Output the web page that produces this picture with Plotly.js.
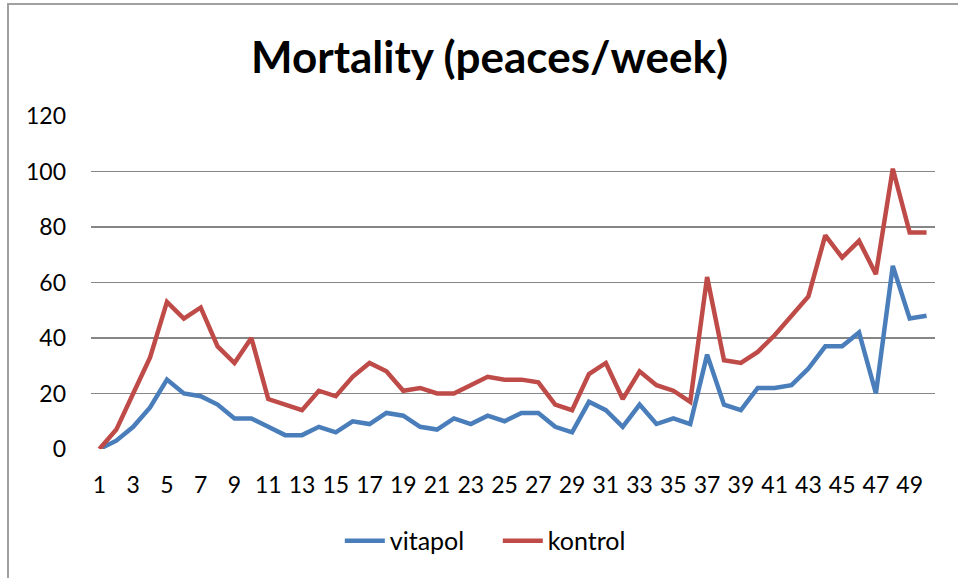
<!DOCTYPE html>
<html>
<head>
<meta charset="utf-8">
<script src="https://cdn.plot.ly/plotly-3.0.1.min.js"></script>
<style>
  html, body { margin: 0; padding: 0; background: #fff; }
  #wrap { position: relative; width: 958px; height: 578px; overflow: hidden; }
  #chart { position: absolute; left: 0; top: 0; width: 958px; height: 578px; }
  #frame { position: absolute; left: 7px; top: 3px; width: 1000px; height: 1000px;
           border-left: 2px solid #a0a0a0; border-top: 2px solid #a0a0a0; pointer-events: none; }
</style>
</head>
<body>
<div id="wrap">
  <div id="chart"></div>
  <div id="frame"></div>
</div>
<script>
const weeks = Array.from({length: 50}, (_, i) => i + 1);
const vitapol = [0, 3, 8, 15, 25, 20, 19, 16, 11, 11,
                 8, 5, 5, 8, 6, 10, 9, 13, 12, 8,
                 7, 11, 9, 12, 10, 13, 13, 8, 6, 17,
                 14, 8, 16, 9, 11, 9, 34, 16, 14, 22,
                 22, 23, 29, 37, 37, 42, 20, 66, 47, 48];
const kontrol = [0, 7, 20, 33, 53, 47, 51, 37, 31, 40,
                 18, 16, 14, 21, 19, 26, 31, 28, 21, 22,
                 20, 20, 23, 26, 25, 25, 24, 16, 14, 27,
                 31, 18, 28, 23, 21, 17, 62, 32, 31, 35,
                 41, 48, 55, 77, 69, 75, 63, 101, 78, 78];
const seriesNames = ["vitapol", "kontrol"];
const titleText = "Mortality (peaces/week)";

const font = "Lato, 'Liberation Sans', sans-serif";

const traces = [
  { x: weeks, y: vitapol, name: seriesNames[0], type: "scatter", mode: "lines",
    line: { color: "#4a7ebb", width: 4.5 } },
  { x: weeks, y: kontrol, name: seriesNames[1], type: "scatter", mode: "lines",
    line: { color: "#be4b48", width: 4.5 } }
];

const layout = {
  width: 958, height: 578,
  margin: { l: 91, r: 23, t: 116, b: 129 },
  paper_bgcolor: "rgba(0,0,0,0)",
  plot_bgcolor: "rgba(0,0,0,0)",
  font: { family: font, size: 23, color: "#000" },
  title: { text: "<b>" + titleText + "</b>", font: { family: font, size: 44, color: "#000" },
           x: 0.511, xref: "container", xanchor: "center", y: 0.9, yref: "container", yanchor: "middle" },
  xaxis: { range: [0.5, 50.5], tickmode: "linear", tick0: 1, dtick: 2,
           showgrid: false, zeroline: false, showline: false, ticks: "",
           ticklabelstandoff: 20, tickfont: { size: 23 } },
  yaxis: { range: [0, 120], tickmode: "linear", tick0: 0, dtick: 20,
           showgrid: true, gridcolor: "#868686", gridwidth: 1.5,
           zeroline: false, showline: false, ticks: "",
           ticklabelstandoff: 24, tickfont: { size: 23 } },
  showlegend: true,
  legend: { orientation: "h", x: 0.482, xanchor: "center", y: -0.276, yanchor: "middle",
            font: { size: 25 }, itemwidth: 40, entrywidth: 103, bgcolor: "rgba(0,0,0,0)" },
  hovermode: false
};

Plotly.newPlot("chart", traces, layout, { displayModeBar: false, staticPlot: true });
</script>
</body>
</html>
